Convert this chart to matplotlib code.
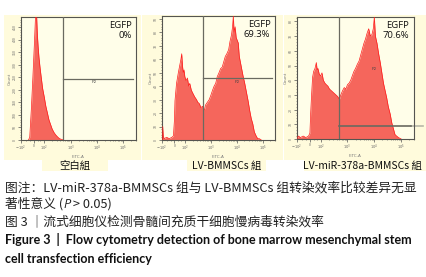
import numpy as np
import matplotlib
matplotlib.use("Agg")
import matplotlib.pyplot as plt
from matplotlib.patches import Rectangle

plt.rcParams['font.family'] = ['Noto Sans CJK SC', 'DejaVu Sans']

W, H = 426, 277

# ---------------------------------------------------------------- data
# x positions are in display decades (2 = 10^2, 3 = 10^3 ...), y = count
blank_x = [1.40, 1.45, 1.51, 1.57, 1.63, 1.68, 1.71, 1.74, 1.77, 1.80, 1.84, 1.88,
           1.94, 2.00, 2.06, 2.12, 2.18, 2.24, 2.30, 2.37, 2.43, 2.49, 2.55, 2.61, 2.67, 2.73]
blank_counts = [0, 10, 120, 250, 390, 520, 500, 420, 370, 330, 290, 255,
                205, 172, 135, 108, 80, 62, 44, 30, 21, 14, 8, 4, 2, 0]

lv_x = [1.14, 1.15, 1.17, 1.20, 1.30, 1.40, 1.50, 1.56, 1.60, 1.62, 1.68, 1.75, 1.80,
        1.85, 1.88, 1.91, 1.94, 1.97, 2.00, 2.05, 2.10, 2.15, 2.19, 2.25, 2.30, 2.38,
        2.45, 2.50, 2.56, 2.62, 2.68, 2.75, 2.80, 2.87, 2.94, 3.00, 3.07, 3.13, 3.19,
        3.25, 3.32, 3.38, 3.44, 3.50, 3.56, 3.62, 3.69, 3.74, 3.80, 3.84, 3.87, 3.90,
        3.94, 3.98, 4.02, 4.06, 4.10, 4.14, 4.18, 4.24, 4.31, 4.37, 4.44, 4.50, 4.56,
        4.62, 4.68, 4.75, 4.81, 4.87, 4.95]
lv_counts = [0, 10, 3, 1, 2, 1, 2, 3, 15, 29, 42, 50, 55,
             60, 64, 55, 50, 52, 47, 44, 46, 40, 42, 37, 35, 32,
             30, 28, 27, 24, 25, 22, 26, 28, 30, 33, 37, 40, 42,
             47, 50, 53, 54, 58, 62, 64, 67, 73, 78, 84, 92, 80,
             84, 76, 74, 72, 62, 58, 54, 48, 42, 36, 29, 22, 16,
             12, 6, 3, 1, 1, 0]

mir_x = [1.12, 1.17, 1.25, 1.35, 1.45, 1.55, 1.60, 1.63, 1.66, 1.70, 1.74, 1.79, 1.84,
         1.87, 1.90, 1.95, 2.00, 2.05, 2.10, 2.16, 2.21, 2.27, 2.33, 2.39, 2.45, 2.51,
         2.57, 2.63, 2.70, 2.75, 2.82, 2.88, 2.94, 3.00, 3.06, 3.12, 3.18, 3.24, 3.30,
         3.37, 3.43, 3.49, 3.55, 3.61, 3.67, 3.73, 3.79, 3.85, 3.91, 3.96, 4.00, 4.04,
         4.10, 4.16, 4.22, 4.28, 4.34, 4.40, 4.46, 4.52, 4.59, 4.65, 4.71, 4.77, 4.83,
         4.90, 5.00]
mir_counts = [0, 2, 1, 2, 1, 2, 4, 18, 29, 42, 46, 48, 52,
              47, 48, 44, 43, 45, 40, 38, 37, 36, 34, 33, 32, 31,
              30, 29, 27, 30, 33, 35, 34, 37, 38, 40, 43, 46, 48,
              51, 53, 57, 61, 65, 68, 72, 75, 70, 71, 75, 83, 70,
              65, 58, 52, 45, 38, 33, 28, 22, 17, 11, 7, 3, 2,
              1, 0]

group_names = ['空白組', 'LV-BMMSCs 組', 'LV-miR-378a-BMMSCs 組']
egfp_labels = ['EGFP\n0%', 'EGFP\n69.3%', 'EGFP\n70.6%']
y_max = [490, 92, 83]
y_step = [50, 10, 10]
gate_x = 2.7
gate_y = [245, 46, 9]   # horizontal P2 line height (counts)
xtick_pos = [1.12, 1.6, 2, 3, 4, 5]
xtick_labels = ['$-10^2$', '0', '$10^2$', '$10^3$', '$10^4$', '$10^5$']

# ---------------------------------------------------------------- layout (pixels)
panel_bg = [(4, 141), (142, 283), (284, 426)]
axes_px = [(21, 136, 17, 140), (162, 275, 16, 140), (297, 414, 17, 139)]
label_box = [(42, 108), (187, 266), (304, 426)]

hist_x = [blank_x, lv_x, mir_x]
hist_y = [blank_counts, lv_counts, mir_counts]

fig = plt.figure(figsize=(W / 100, H / 100), dpi=100)
fig.patch.set_facecolor('white')

bg = '#fffbdc'
for (x0, x1) in panel_bg:
    fig.patches.append(Rectangle((x0 / W, 1 - 160 / H), (x1 - x0) / W, 145 / H,
                                 transform=fig.transFigure, facecolor=bg, edgecolor='none', zorder=-5))
for (x0, x1) in label_box:
    fig.patches.append(Rectangle((x0 / W, 1 - 171 / H), (x1 - x0) / W, 12 / H,
                                 transform=fig.transFigure, facecolor=bg, edgecolor='none', zorder=-5))

minor_x = [1.3, 1.45, 1.75, 1.85]
for k in (2, 3, 4):
    minor_x += [k + np.log10(m) for m in range(2, 10)]
minor_x += [5 + np.log10(m) for m in (2, 3)]

for i in range(3):
    l, r, t, b = axes_px[i]
    ax = fig.add_axes([l / W, 1 - b / H, (r - l) / W, (b - t) / H])
    ax.set_facecolor('#fffee9')
    ax.fill_between(hist_x[i], hist_y[i], color='#f5665c', lw=0, zorder=2)
    ax.plot(hist_x[i], hist_y[i], color='#ff1a1a', lw=0.5, zorder=3)
    ax.set_xlim(1.12, 5.37)
    ax.set_ylim(0, y_max[i])

    ax.axvline(gate_x, color='#6a6a60', lw=0.9, zorder=4)
    ax.plot([gate_x, 5.37], [gate_y[i], gate_y[i]], color='#6a6a60',
            lw=1.2 if i == 2 else 0.9, zorder=4)
    if i == 2:
        ax.plot([5.37, 5.8], [gate_y[i], gate_y[i]], color='#b8b8a8', lw=1.2, clip_on=False)
    p2_y = [245, 46, 50][i]
    ax.text(4.0 if i else 3.9, p2_y - y_max[i] * 0.03, 'P2', fontsize=3, color='#444',
            ha='center', va='center', zorder=5)

    ax.text(0.96, 0.965, egfp_labels[i], transform=ax.transAxes, ha='right', va='top',
            fontsize=6.8, linespacing=1.1, color='#111', zorder=6, family=['Open Sans'])

    for s in ax.spines.values():
        s.set_color('#555550')
        s.set_linewidth(0.8)
    ax.set_xticks(xtick_pos)
    ax.set_xticklabels(xtick_labels)
    ax.set_xticks(minor_x, minor=True)
    yt = np.arange(0, y_max[i], y_step[i])
    ax.set_yticks(yt)
    ax.set_yticklabels([str(v) for v in yt], rotation=90, va='center')
    ax.set_yticks(np.arange(0, y_max[i], y_step[i] / 5), minor=True)
    ax.tick_params(axis='both', which='major', length=2, width=0.5, color='#555',
                   labelsize=2.6, labelcolor='#666', pad=1)
    ax.tick_params(axis='both', which='minor', length=1, width=0.4, color='#555')
    ax.set_xlabel('FITC-A', fontsize=3, color='#777', labelpad=1, family='DejaVu Sans')
    ax.set_ylabel('Count', fontsize=3, color='#777', labelpad=1, family='DejaVu Sans')

    cx = [75, 227, 362][i]
    fig.text(cx / W, 1 - 165.5 / H, group_names[i], ha='center', va='center', fontsize=7.5, color='#111')

# ---------------------------------------------------------------- caption
cap = dict(fontsize=9.2, color='#222', va='center')
fig.text(5 / W, 1 - 188 / H, '图注：LV-miR-378a-BMMSCs 组与 LV-BMMSCs 组转染效率比较差异无显', **cap)
fig.canvas.draw()
r = fig.canvas.get_renderer()
t1 = fig.text(5 / W, 1 - 204 / H, '著性意义 (', **cap)
x = t1.get_window_extent(r).x1
t2 = fig.text(x / W, 1 - 204 / H, 'P', style='italic', family='Open Sans', **cap)
x = t2.get_window_extent(r).x1
fig.text(x / W, 1 - 204 / H, ' > 0.05)', **cap)
fig.text(5 / W, 1 - 222 / H, '图 3 ｜流式细胞仪检测骨髓间充质干细胞慢病毒转染效率', **cap)
en = dict(fontsize=9.0, color='#111', va='center', weight='bold', family=['Lato', 'DejaVu Sans'])
fig.text(5 / W, 1 - 239 / H, 'Figure 3  |  Flow cytometry detection of bone marrow mesenchymal stem', **en)
fig.text(5 / W, 1 - 259 / H, 'cell transfection efficiency', **en)

fig.savefig('out.png', dpi=100, facecolor='white')
